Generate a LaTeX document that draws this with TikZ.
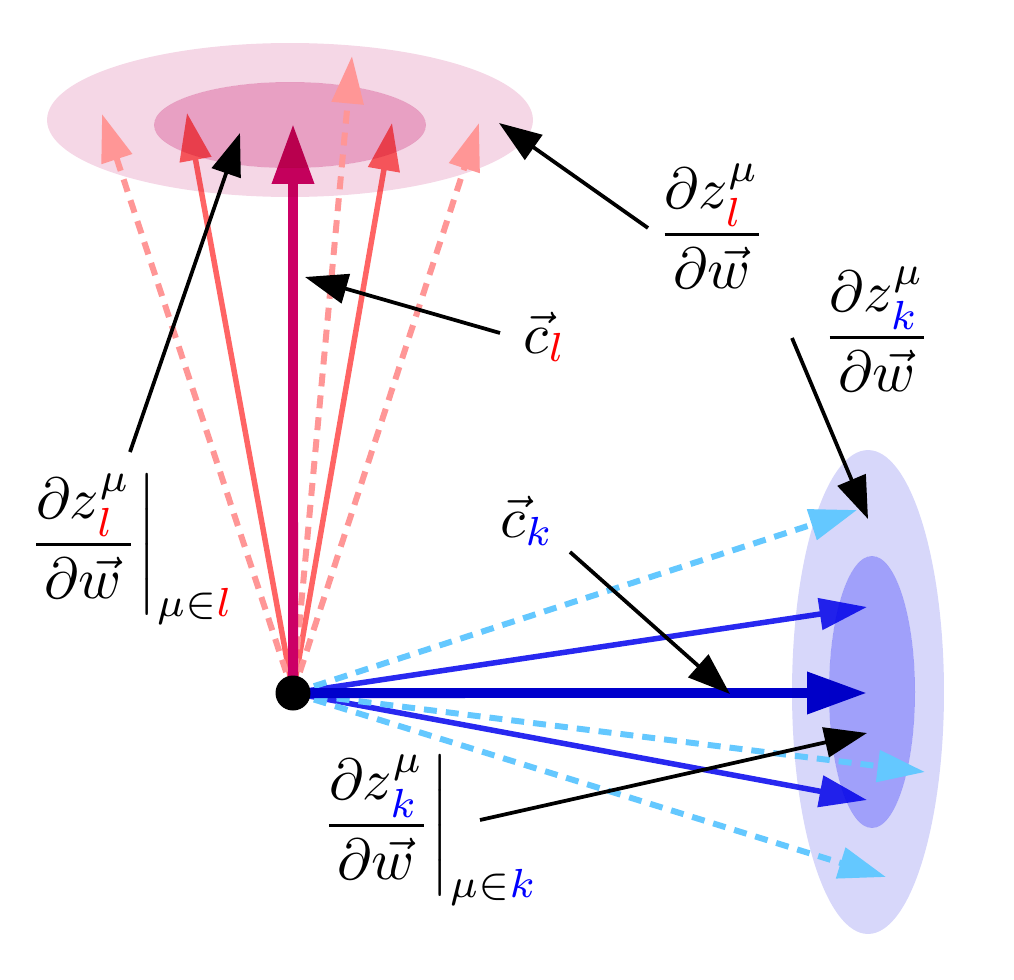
\documentclass[tikz,border=0pt]{standalone}
\usetikzlibrary{arrows.meta,calc}
\definecolor{magArr}{RGB}{204,0,102}
\definecolor{salArr}{RGB}{255,100,100}
\definecolor{lsalArr}{RGB}{255,150,150}
\definecolor{dbArr}{RGB}{0,0,204}
\definecolor{bArr}{RGB}{40,40,240}
\definecolor{lbArr}{RGB}{100,200,255}
\definecolor{pinkOut}{RGB}{245,215,230}
\definecolor{pinkIn}{RGB}{232,160,195}
\definecolor{blueOut}{RGB}{215,215,250}
\definecolor{blueIn}{RGB}{160,160,250}
\begin{document}
\begin{tikzpicture}[x=0.02cm,y=-0.02cm,
  arrbig/.style={line width=0.2cm,-{Triangle[length=1.2cm,width=0.8cm]}},
  arrsolid/.style={line width=0.11cm,-{Triangle[length=0.95cm,width=0.62cm]}},
  arrdash/.style={arrsolid,line width=0.12cm,dash pattern=on 0.26cm off 0.18cm},
  annot/.style={line width=0.075cm,black,-{Triangle[length=0.85cm,width=0.6cm]}},
  lbl/.style={scale=3.3,inner sep=0pt,anchor=base},
  dot/.style={circle,fill=black,inner sep=0pt,minimum size=0.7cm}]
\useasboundingbox (0,0) rectangle (1014,980);
\coordinate (O) at (293,693);
% tips of the upper fan
\coordinate (tl1) at (102,114);
\coordinate (tl2) at (187,113);
\coordinate (tl3) at (293,124);
\coordinate (tl4) at (352,56);
\coordinate (tl5) at (392,123);
\coordinate (tl6) at (479,123);
% tips of the right fan
\coordinate (tk1) at (857,510);
\coordinate (tk2) at (867,607);
\coordinate (tk3) at (867,693);
\coordinate (tk4) at (925,772);
\coordinate (tk5) at (867,800);
\coordinate (tk6) at (886,877);
% solid arrows (below the clouds)
\draw[arrsolid,salArr] (O) -- (tl2);
\draw[arrsolid,salArr] (O) -- (tl5);
\draw[arrbig,magArr] (O) -- (tl3);
\draw[arrsolid,bArr] (O) -- (tk2);
\draw[arrsolid,bArr] (O) -- (tk5);
\draw[arrbig,dbArr] (O) -- (tk3);
% clouds
\fill[pinkOut,blend mode=multiply,even odd rule]
  (290,120) ellipse [x radius=4.86cm,y radius=1.54cm]
  (290,125) ellipse [x radius=2.72cm,y radius=0.86cm];
\fill[pinkIn,blend mode=multiply] (290,125) ellipse [x radius=2.72cm,y radius=0.86cm];
\fill[blueOut,blend mode=multiply,even odd rule]
  (868,692) ellipse [x radius=1.52cm,y radius=4.84cm]
  (872,692) ellipse [x radius=0.86cm,y radius=2.72cm];
\fill[blueIn,blend mode=multiply] (872,692) ellipse [x radius=0.86cm,y radius=2.72cm];
% dashed arrows (above the clouds)
\draw[arrdash,lsalArr] (O) -- (tl1);
\draw[arrdash,lsalArr] (O) -- (tl4);
\draw[arrdash,lsalArr] (O) -- (tl6);
\draw[arrdash,lbArr] (O) -- (tk1);
\draw[arrdash,lbArr] (O) -- (tk4);
\draw[arrdash,lbArr] (O) -- (tk6);
% redraw the thick lines near the origin above the dashed ones
\draw[line width=0.2cm,magArr] (O) -- ($(O)!0.3!(tl3)$);
\draw[line width=0.2cm,dbArr] (O) -- ($(O)!0.3!(tk3)$);
% origin
\node[dot] (dotO) at (O) {};
% labels
\node[lbl] (dzl) at (712,249) {$\displaystyle\frac{\partial z^{\mu}_{\textcolor{red}{l}}}{\partial\vec w}$};
\node[lbl] (dzk) at (877,352) {$\displaystyle\frac{\partial z^{\mu}_{\textcolor{blue}{k}}}{\partial\vec w}$};
\node[lbl] (cl) at (545,353) {$\vec c_{\textcolor{red}{l}}$};
\node[lbl] (ck) at (527,537) {$\vec c_{\textcolor{blue}{k}}$};
\node[lbl,anchor=base west] (dzlev) at (21,559) {$\displaystyle\left.\frac{\partial z^{\mu}_{\textcolor{red}{l}}}{\partial\vec w}\right|_{\mu\in\textcolor{red}{l}}$};
\node[lbl,anchor=base west] (dzkev) at (314,840) {$\displaystyle\left.\frac{\partial z^{\mu}_{\textcolor{blue}{k}}}{\partial\vec w}\right|_{\mu\in\textcolor{blue}{k}}$};
% annotation arrows
\coordinate (s1) at (130,452); \coordinate (e1) at (240,133);
\coordinate (s2) at (648,228); \coordinate (e2) at (499,123);
\coordinate (s3) at (500,333); \coordinate (e3) at (305,277);
\coordinate (s4) at (792,338); \coordinate (e4) at (868,519);
\coordinate (s5) at (570,552); \coordinate (e5) at (730,694);
\coordinate (s6) at (480,820); \coordinate (e6) at (867,733);
\draw[annot] (s1) -- (e1);
\draw[annot] (s2) -- (e2);
\draw[annot] (s3) -- (e3);
\draw[annot] (s4) -- (e4);
\draw[annot] (s5) -- (e5);
\draw[annot] (s6) -- (e6);
\end{tikzpicture}
\end{document}
